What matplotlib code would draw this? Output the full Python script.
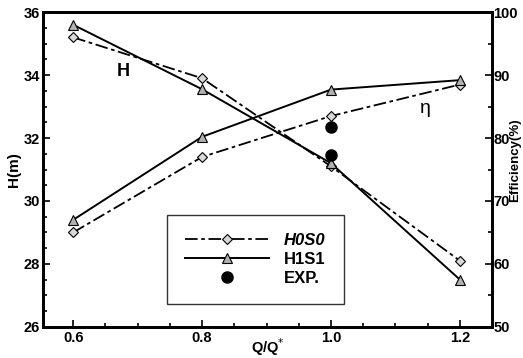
import matplotlib
matplotlib.use("Agg")
import matplotlib.pyplot as plt
from matplotlib.ticker import MultipleLocator

plt.rcParams['font.family'] = ['Liberation Sans', 'DejaVu Sans']

q = [0.6, 0.8, 1.0, 1.2]
h_h0s0 = [35.2, 33.9, 31.1, 28.1]
h_h1s1 = [35.6, 33.55, 31.2, 27.5]
eff_h0s0 = [65.0, 77.0, 83.5, 88.5]
eff_h1s1 = [67.0, 80.2, 87.7, 89.2]
exp_q = [1.0]
exp_h = [31.45]
exp_eff = [81.75]

fig = plt.figure(figsize=(5.23, 3.58), dpi=100)
ax = fig.add_axes([0.082, 0.087, 0.859, 0.879])
ax2 = ax.twinx()

ls_dd = (0, (7, 2, 2, 2))
l1, = ax.plot(q, h_h0s0, color='black', linestyle=ls_dd, linewidth=1.3,
              marker='D', markersize=5, markerfacecolor='#d8d8d8', markeredgecolor='black', markeredgewidth=0.8)
l2, = ax.plot(q, h_h1s1, color='black', linestyle='-', linewidth=1.4,
              marker='^', markersize=7, markerfacecolor='#b0b0b0', markeredgecolor='black', markeredgewidth=0.8)
l3, = ax.plot(exp_q, exp_h, linestyle='none', marker='o', markersize=8, color='black')

ax2.plot(q, eff_h0s0, color='black', linestyle=ls_dd, linewidth=1.3,
         marker='D', markersize=5, markerfacecolor='#d8d8d8', markeredgecolor='black', markeredgewidth=0.8)
ax2.plot(q, eff_h1s1, color='black', linestyle='-', linewidth=1.4,
         marker='^', markersize=7, markerfacecolor='#b0b0b0', markeredgecolor='black', markeredgewidth=0.8)
ax2.plot(exp_q, exp_eff, linestyle='none', marker='o', markersize=8, color='black')

ax.set_xlim(0.553, 1.25)
ax.set_ylim(26, 36)
ax2.set_ylim(50, 100)

ax.set_xticks(q)
ax.set_xticklabels(['0.6', '0.8', '1.0', '1.2'])
ax.xaxis.set_minor_locator(MultipleLocator(0.05))
ax.yaxis.set_major_locator(MultipleLocator(2))
ax.yaxis.set_minor_locator(MultipleLocator(0.5))
ax2.yaxis.set_major_locator(MultipleLocator(10))
ax2.yaxis.set_minor_locator(MultipleLocator(5))

for a in (ax, ax2):
    a.tick_params(which='both', direction='in', width=1.2, labelsize=10.5)
    a.tick_params(which='major', length=5)
    a.tick_params(which='minor', length=3)
    for lab in a.get_xticklabels() + a.get_yticklabels():
        lab.set_fontweight('bold')
ax.tick_params(axis='x', which='both', top=False, pad=3)
ax.tick_params(axis='y', pad=2)
ax2.tick_params(axis='y', pad=1)
for s in ax.spines.values():
    s.set_linewidth(2.0)
for s in ax2.spines.values():
    s.set_linewidth(2.0)

ax.set_ylabel('H(m)', fontsize=11, fontweight='bold', labelpad=2)
ax2.set_ylabel('Efficiency(%)', fontsize=9.5, fontweight='bold', va='center')
ax2.yaxis.set_label_coords(1.051, 0.53)
ax.set_xlabel('Q/Q$^{*}$', fontsize=10.5, fontweight='bold', va='center')
ax.xaxis.set_label_coords(0.5, -0.063)

ax.text(0.677, 34.1, 'H', fontsize=13, fontweight='bold', ha='center', va='center')
ax.text(1.146, 32.95, 'η', fontsize=14, ha='center', va='center')

leg = ax.legend([l1, l2, l3], ['H0S0', 'H1S1', 'EXP.'], loc='lower left',
                bbox_to_anchor=(0.276, 0.073), borderaxespad=0.0,
                frameon=True, fancybox=False,
                edgecolor='black', handlelength=5.0, handletextpad=0.9,
                borderpad=1.1, labelspacing=0.22,
                prop={'weight': 'bold', 'style': 'italic', 'size': 12})
leg.get_frame().set_linewidth(1.0)
for t in leg.get_texts()[1:]:
    t.set_fontstyle('normal')

fig.savefig('out.png', dpi=100)
